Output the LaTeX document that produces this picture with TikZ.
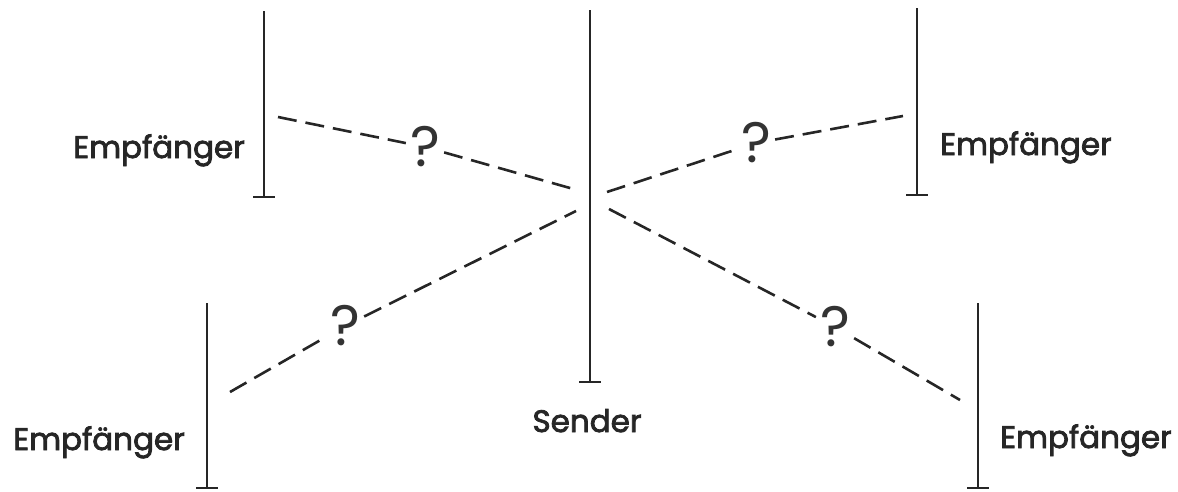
\documentclass[tikz,border=0pt]{standalone}
\usepackage{fontspec}
\setmainfont{Poppins}
\newfontfamily\lblfont{Poppins}[FakeBold=2.5]
\newfontfamily\qfont{Poppins}
\begin{document}
\begin{tikzpicture}[x=1pt,y=-1pt,
  mast/.style={line width=2pt, draw=black!85},
  wave/.style={line width=2.6pt, dash pattern=on 19pt off 9pt, draw=black!85},
  lbl/.style={font=\lblfont\fontsize{31}{31}\selectfont, text=black!85, inner sep=0pt},
  qm/.style={font=\qfont\fontsize{57}{57}\selectfont, text=black!80, inner sep=4pt}]
\useasboundingbox (0,0) rectangle (1178,491);
% antennas
\coordinate (t1) at (264,11);  \coordinate (f1) at (264,197);
\coordinate (ts) at (590,10);  \coordinate (fs) at (590,382);
\coordinate (t2) at (917,8);   \coordinate (f2) at (917,195);
\coordinate (t3) at (207,303); \coordinate (f3) at (207,488);
\coordinate (t4) at (978,303); \coordinate (f4) at (978,488);
\foreach \t/\f in {t1/f1,ts/fs,t2/f2,t3/f3,t4/f4}{
  \draw[mast] (\t) -- (\f);
  \draw[mast] ([xshift=-11pt]\f) -- ([xshift=11pt]\f);
}
% labels
\node[lbl, anchor=base east] (l1) at (245,158) {Empfänger};
\node[lbl, anchor=base west] (l2) at (940,155) {Empfänger};
\node[lbl, anchor=base east] (l3) at (185,450) {Empfänger};
\node[lbl, anchor=base west] (l4) at (1000,448) {Empfänger};
\node[lbl, anchor=base] (ls) at (587,432) {Sender};
% question marks
\node[qm] (q1) at (425,147) {?};
\node[qm] (q2) at (756,143) {?};
\node[qm] (q3) at (345,326) {?};
\node[qm] (q4) at (835,327) {?};
% wave end points
\coordinate (e1) at (278,117); \coordinate (c1) at (577,190);
\coordinate (e2) at (903,116); \coordinate (c2) at (607,192);
\coordinate (e3) at (230,392); \coordinate (c3) at (576,211);
\coordinate (e4) at (960,400); \coordinate (c4) at (609,209);
\draw[wave] (e1) -- (q1); \draw[wave] (q1) -- (c1);
\draw[wave] (c2) -- (q2); \draw[wave] (q2) -- (e2);
\draw[wave] (e3) -- (q3); \draw[wave] (q3) -- (c3);
\draw[wave] (c4) -- (q4); \draw[wave] (q4) -- (e4);
\end{tikzpicture}
\end{document}
